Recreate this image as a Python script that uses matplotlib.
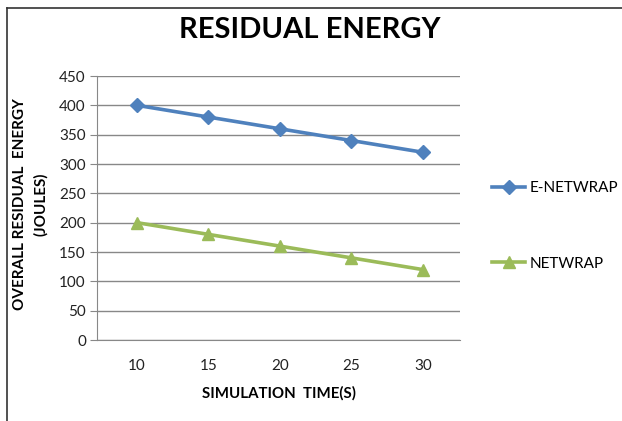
import matplotlib
matplotlib.use("Agg")
import matplotlib.pyplot as plt
from matplotlib.lines import Line2D

categories = ["10", "15", "20", "25", "30"]
e_netwrap = [400, 380, 360, 340, 320]
netwrap = [200, 180, 160, 140, 120]
yticks = [0, 50, 100, 150, 200, 250, 300, 350, 400, 450]

plt.rcParams["font.family"] = ["Lato", "DejaVu Sans"]

W, H = 622, 421
fig = plt.figure(figsize=(W / 100, H / 100), dpi=100)
ax = fig.add_axes([97 / W, 1 - 340 / H, (460 - 97) / W, (340 - 76) / H])

x = list(range(len(categories)))
ax.plot(x, e_netwrap, color="#4F81BD", lw=2.6, marker="D", ms=7, label="E-NETWRAP")
ax.plot(x, netwrap, color="#9BBB59", lw=2.6, marker="^", ms=9, label="NETWRAP")

ax.set_xlim(-0.56, 4.52)
ax.set_ylim(0, 450)
ax.set_yticks(yticks)
ax.set_xticks(x)
ax.set_xticklabels(categories)
ax.yaxis.grid(True, color="#888888", lw=1)
ax.set_axisbelow(True)
for s in ["top", "right"]:
    ax.spines[s].set_visible(False)
ax.spines["left"].set_color("#888888")
ax.spines["bottom"].set_color("#888888")
ax.tick_params(axis="x", length=0, pad=14, labelsize=11, colors="#222222")
ax.tick_params(axis="y", length=5, color="#888888", pad=3, labelsize=11, labelcolor="#222222")

ax.set_xlabel("SIMULATION  TIME(S)", fontsize=10.8, fontweight="bold", labelpad=9)
fig.text(20 / W, 1 - 204 / H, "OVERALL RESIDUAL  ENERGY", rotation=90, ha="center", va="center",
         fontsize=11, fontweight="bold")
fig.text(41 / W, 1 - 204 / H, "(JOULES)", rotation=90, ha="center", va="center",
         fontsize=11, fontweight="bold")

fig.text(310 / W, 1 - 30 / H, "RESIDUAL ENERGY", ha="center", va="center",
         fontsize=21, fontweight="bold")

fig.legend(loc="center left", bbox_to_anchor=(478 / W, 1 - 226 / H), frameon=False,
           fontsize=11, labelspacing=4.0, handlelength=2.2, handletextpad=0.3)

fig.add_artist(Line2D([7 / W, 7 / W], [0, 1 - 8 / H], color="#333333", lw=1.2))
fig.add_artist(Line2D([7 / W, 1], [1 - 8 / H, 1 - 8 / H], color="#333333", lw=1.2))

fig.savefig("out.png", dpi=100)
